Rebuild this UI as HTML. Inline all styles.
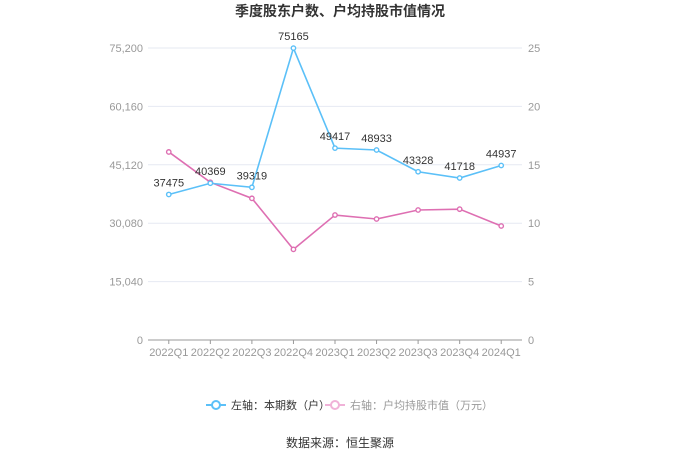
<!DOCTYPE html>
<html><head><meta charset="utf-8"><style>
body{margin:0;background:#fff;font-family:"Liberation Sans","Noto Sans CJK SC",sans-serif;}
</style></head><body>
<svg id="chart" width="680" height="460" xmlns="http://www.w3.org/2000/svg" font-family="Liberation Sans, Noto Sans CJK SC, sans-serif">
<text x="340" y="16" text-anchor="middle" font-size="14" font-weight="bold" fill="#333">季度股东户数、户均持股市值情况</text>
<g id="grid"></g><g id="axes"></g><g id="series"></g>
<g>
<line x1="206" y1="405" x2="226" y2="405" stroke="#5bc0f8" stroke-width="2"/>
<circle cx="216" cy="405" r="4" fill="#fff" stroke="#5bc0f8" stroke-width="2"/>
<text x="231" y="409" font-size="11" fill="#333">左轴：本期数（户）</text>
<line x1="325" y1="405" x2="345" y2="405" stroke="#f0b2d8" stroke-width="2"/>
<circle cx="335" cy="405" r="4" fill="#fff" stroke="#f0b2d8" stroke-width="2"/>
<text x="350" y="409" font-size="11" fill="#999">右轴：户均持股市值（万元）</text>
</g>
<text x="340" y="447" text-anchor="middle" font-size="12" fill="#333">数据来源：恒生聚源</text>
</svg>
<script>
const categories=["2022Q1","2022Q2","2022Q3","2022Q4","2023Q1","2023Q2","2023Q3","2023Q4","2024Q1"];
const holders=[37475,40369,39319,75165,49417,48933,43328,41718,44937];
const avgValue=[16.1,13.5,12.13,7.76,10.7,10.36,11.13,11.2,9.76];
const leftTicks=[0,15040,30080,45120,60160,75200];
const leftTickLabels=["0","15,040","30,080","45,120","60,160","75,200"];
const rightTicks=[0,5,10,15,20,25];
const NS="http://www.w3.org/2000/svg";
const L=148,R=522,T=48,B=340;
const bw=(R-L)/categories.length;
const x=i=>L+bw*(i+0.5);
const yl=v=>B-(v/75200)*(B-T);
const yr=v=>B-(v/25)*(B-T);
function mk(tag,attrs,parent,text){const e=document.createElementNS(NS,tag);for(const k in attrs)e.setAttribute(k,attrs[k]);if(text!==undefined)e.textContent=text;document.getElementById(parent).appendChild(e);return e;}
leftTicks.forEach((t,i)=>{
  const g=mk('line',{x1:L,x2:R,y1:yl(t),y2:yl(t),stroke:i==0?'#999':'#e6e9f2','stroke-width':1},'grid');
  
  
  const a=mk('text',{x:L-5,y:yl(t)+4,'text-anchor':'end','font-size':11,fill:'#999'},'axes',leftTickLabels[i]);
  
  
});
rightTicks.forEach(t=>{
  const a=mk('text',{x:R+6,y:yr(t)+4,'font-size':11,fill:'#999'},'axes',String(t));
  
  
});
categories.forEach((c,i)=>{
  const tk=mk('line',{x1:x(i),x2:x(i),y1:B,y2:B+4,stroke:'#999'},'axes');
  
  
  const a=mk('text',{x:x(i),y:B+16,'text-anchor':'middle','font-size':11,fill:'#999'},'axes',c);
  
  
});
function series(vals,yf,color,name,labels){
  const p=mk('polyline',{points:vals.map((v,i)=>x(i)+','+yf(v)).join(' '),fill:'none',stroke:color,'stroke-width':1.6},'series');
  
  
  vals.forEach((v,i)=>{
    const c=mk('circle',{cx:x(i),cy:yf(v),r:2.2,fill:'#fff',stroke:color,'stroke-width':1.4},'series');
    
    
    if(labels){
      const t=mk('text',{x:x(i),y:yf(v)-8,'text-anchor':'middle','font-size':11,fill:'#333'},'series',String(v));
      
      
    }
  });
}
series(avgValue,yr,'#de6fb2','avg-value',false);
series(holders,yl,'#5bc0f8','holders',true);
</script>
</body></html>
